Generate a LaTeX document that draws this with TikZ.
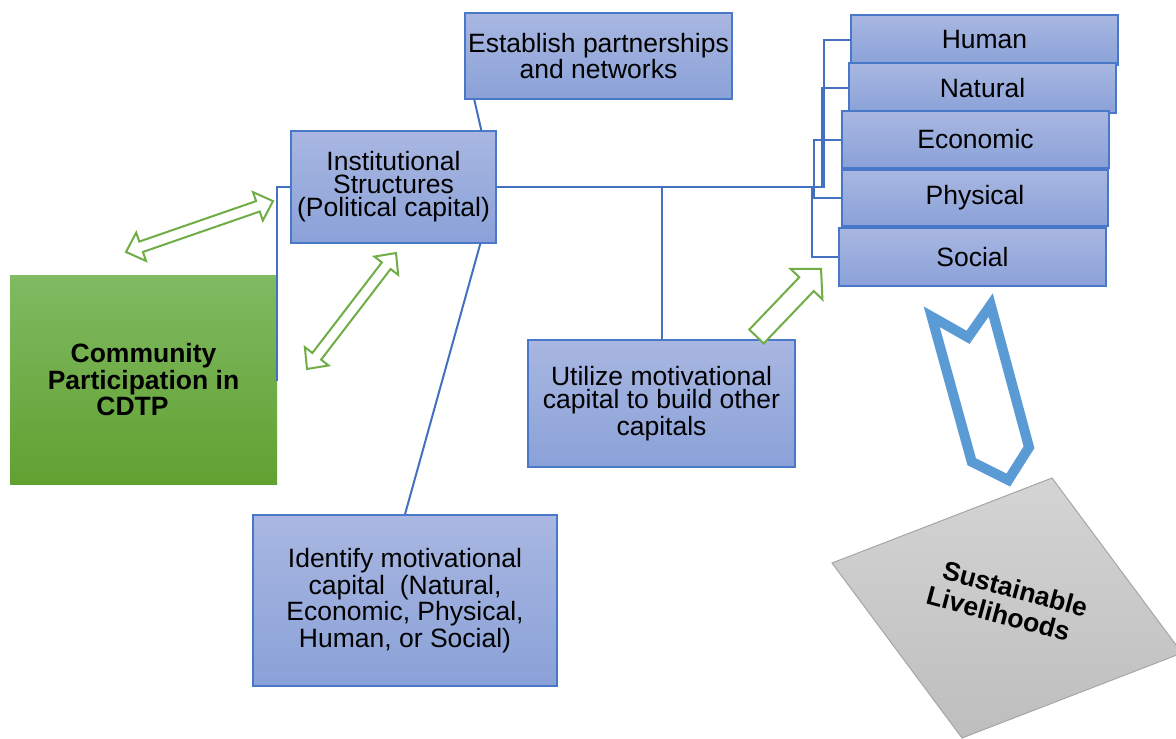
\documentclass[tikz,border=0pt]{standalone}
\usepackage{fontspec}
\setmainfont{Liberation Sans}
\definecolor{boxtop}{HTML}{A9B7E1}
\definecolor{boxbot}{HTML}{8AA1D8}
\definecolor{boxedge}{HTML}{4A78C8}
\definecolor{linkblue}{HTML}{4470C0}
\definecolor{greentop}{HTML}{80BA62}
\definecolor{greenbot}{HTML}{61A131}
\definecolor{arrowgreen}{HTML}{70AD47}
\definecolor{chevblue}{HTML}{5B9BD5}
\definecolor{slatetop}{HTML}{D4D4D4}
\definecolor{slatebot}{HTML}{BEBEBE}
\definecolor{slateedge}{HTML}{A6A6A6}
\begin{document}
\begin{tikzpicture}[x=0.5pt,y=-0.5pt,
  every node/.style={font=\fontsize{13.25}{11.5}\selectfont},
  bluebox/.style={draw=boxedge, line width=0.7pt, top color=boxtop,
    bottom color=boxbot, align=center, inner sep=0pt},
  greenbox/.style={draw=none, top color=greentop, bottom color=greenbot,
    align=center, inner sep=0pt, font=\fontsize{13.25}{11.5}\selectfont\bfseries},
  link/.style={draw=linkblue, line width=1pt},
  garrow/.style={draw=arrowgreen, fill=white, line width=1pt, line join=miter},
  chev/.style={draw=chevblue, line width=5pt, line join=miter},
  pics/dblarrow/.style={code={
    \draw[garrow] (0,0) -- (16,15) -- (16,5.5) -- (#1-16,5.5) -- (#1-16,15)
      -- (#1,0) -- (#1-16,-15) -- (#1-16,-5.5) -- (16,-5.5) -- (16,-15) -- cycle;}},
  pics/sglarrow/.style={code={
    \draw[garrow] (0,10) -- (#1-21,10) -- (#1-21,22) -- (#1,0)
      -- (#1-21,-22) -- (#1-21,-10) -- (0,-10) -- cycle;}}
]
\useasboundingbox (0,0) rectangle (1176,738);
\clip (0,0) rectangle (1176,738);
\fill[white] (0,0) rectangle (1176,738);

% main boxes
\node[bluebox, minimum width=133.5pt, minimum height=43pt] (est) at (598.5,56)
  {Establish partnerships\\and networks};
\node[bluebox, minimum width=102.5pt, minimum height=56pt] (inst) at (393.5,187)
  {Institutional\\Structures\\(Political capital)};
\node[greenbox, minimum width=133.5pt, minimum height=104.5pt] (comm) at (143.5,379.5)
  {Community\\Participation in\\CDTP\hspace*{11pt}};
\node[bluebox, minimum width=133.5pt, minimum height=63.5pt] (util) at (661.5,403.5)
  {Utilize motivational\\capital to build other\\capitals};
\node[bluebox, minimum width=152pt, minimum height=85.5pt] (ident) at (405,600.5)
  {Identify motivational\\capital\ \ (Natural,\\Economic, Physical,\\Human, or Social)};

% stack of capitals
\node[bluebox, minimum width=133.5pt, minimum height=25pt] (human) at (984.5,40) {Human};
\node[bluebox, minimum width=133.5pt, minimum height=25pt] (natural) at (982.5,88) {Natural};
\node[bluebox, minimum width=133.5pt, minimum height=28.5pt] (economic) at (975.5,139.5) {Economic};
\node[bluebox, minimum width=133pt, minimum height=28pt] (physical) at (975,198) {Physical};
\node[bluebox, minimum width=133.5pt, minimum height=29pt] (social) at (972.5,257) {Social};

% connectors
\coordinate (jh) at (824,187);
\coordinate (jn) at (822,187);
\coordinate (js) at (812,187);
\draw[link] (inst.east) -- (jh) |- (human.west);
\draw[link] (jn) |- (natural.west);
\draw[link] (economic.west) -- ++(-27,0) |- (physical.west);
\draw[link] (js) |- (social.west);
\draw[link] (util.north |- inst.east) -- (util.north);
\draw[link] (inst.west) -- ++(-13,0) |- (comm.east);
\draw[link] ([xshift=5pt]est.south west) -- ([xshift=95.5pt]inst.north west);
\draw[link] ([xshift=95pt]inst.south west) -- (ident.north);

% hollow green block arrows
\pic[rotate=19.1] at (126,252) {dblarrow=155.6};
\pic[rotate=52.5] at (307,369) {dblarrow=146.2};
\pic[rotate=46.3] at (756.5,336.5) {sglarrow=93.4};

% outlined chevron arrow
\draw[chev] (931.7,316.7) -- (968,337.3) -- (990.7,305) -- (1029,447.3)
  -- (1008.3,480) -- (971.7,461.7) -- cycle;

% tilted slate with the outcome
\path[draw=slateedge, line width=0.5pt, top color=slatetop, bottom color=slatebot]
  (832,563) -- (1052,478) -- (1182,653) -- (962,738) -- cycle;
\node[rotate=-15, align=center, font=\fontsize{13.25}{14}\selectfont\bfseries]
  (sl) at (1002,600) {\hspace*{10pt}Sustainable\\Livelihoods};
\end{tikzpicture}
\end{document}
